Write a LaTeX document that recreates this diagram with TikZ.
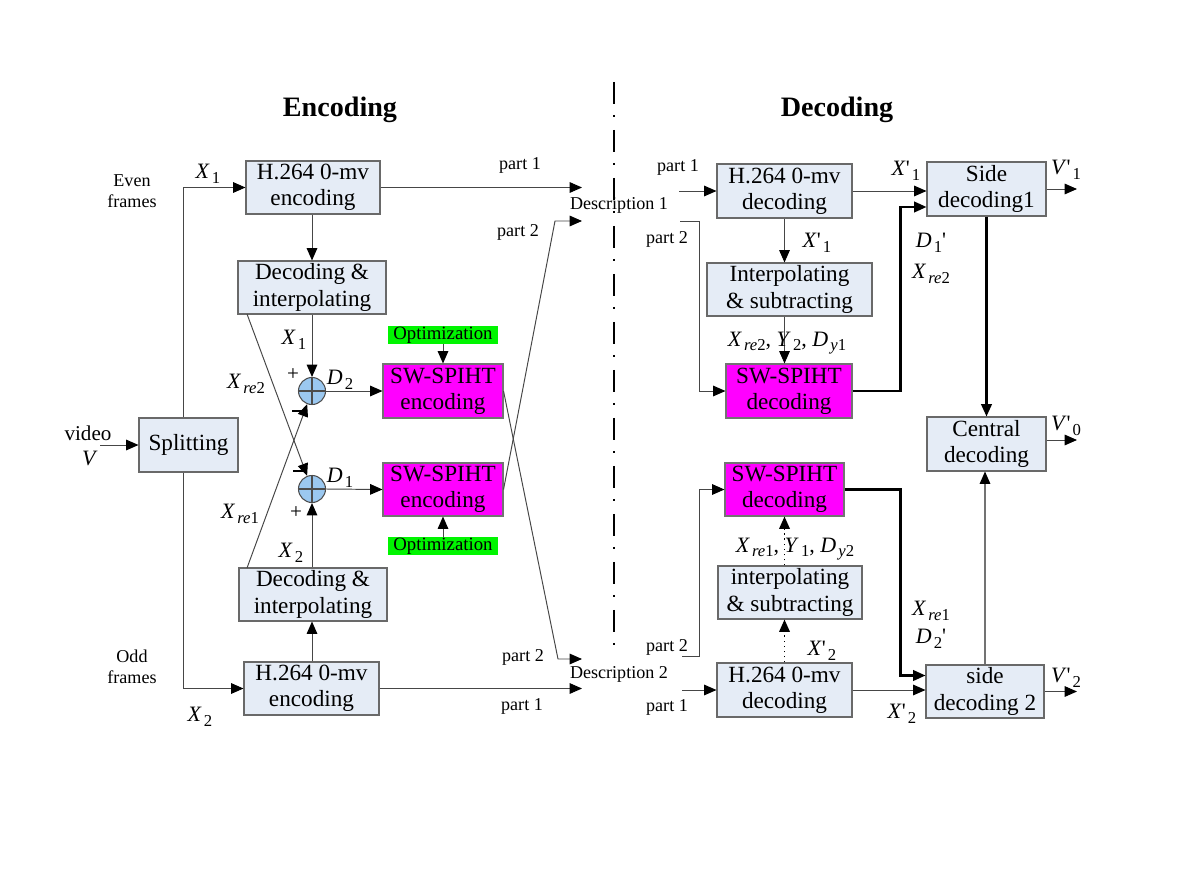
\documentclass[tikz,border=0pt]{standalone}
\usepackage{fontspec}
\setmainfont{Liberation Serif}
\usetikzlibrary{arrows.meta,calc,shapes.geometric}
\definecolor{boxfill}{RGB}{229,236,246}
\definecolor{boxline}{RGB}{105,105,105}
\definecolor{magentab}{RGB}{255,0,255}
\definecolor{greenb}{RGB}{0,245,0}
\definecolor{sumfill}{RGB}{155,200,240}
\definecolor{linec}{RGB}{70,70,70}
\newcommand{\xv}{\textit{X}}
\newcommand{\sbx}[1]{\hspace{0.1em}\raisebox{-0.45ex}{\fontsize{9.5}{10}\selectfont #1}}
\newcommand{\pr}{{\upshape\textquotesingle}}
\begin{document}
\begin{tikzpicture}[x=0.02cm,y=-0.02cm,
  wh/.style 2 args={minimum width=#1*0.02cm, minimum height=#2*0.02cm},
  box/.style={draw=boxline, fill=boxfill, line width=0.6pt, align=center, inner sep=0pt, font=\fontsize{13.2}{15}\selectfont},
  mbox/.style={box, fill=magentab, draw=black!55},
  obox/.style={draw=none, fill=greenb, inner sep=0pt, font=\fontsize{10.7}{11}\selectfont},
  sumc/.style={circle, draw=black!70, fill=sumfill, minimum size=27*0.02cm, inner sep=0pt, line width=0.6pt},
  conn/.style={draw=linec, line width=0.55pt},
  tip/.style={-{Triangle[length=7pt,width=6pt,black]}},
  arr/.style={conn, tip},
  tarr/.style={draw=black, line width=1.2pt, tip},
  darr/.style={draw=black, line width=0.9pt, dotted, tip},
  garr/.style={draw=black!55, line width=0.6pt, tip},
  lbl/.style={font=\fontsize{10.3}{12}\selectfont, inner sep=0pt, align=center},
  mlbl/.style={font=\fontsize{12.5}{14}\selectfont, inner sep=0pt},
  ttl/.style={font=\fontsize{16}{18}\selectfont\bfseries, inner sep=0pt},
  minus/.style={inner sep=0pt},
  plus/.style={font=\fontsize{12}{12}\selectfont, inner sep=0pt}
]
\fill[white] (0,0) rectangle (1200,882);
\useasboundingbox (0,0) rectangle (1200,882);

% titles
\node[ttl] (tenc) at (340,110) {Encoding};
\node[ttl] (tdec) at (837,110) {Decoding};

% separator
\draw[line width=1.4pt, dash pattern=on 0.44cm off 0.22cm on 0.04cm off 0.26cm] (614,82) -- (614,652);

% ---------- encoder boxes ----------
\node[box, wh={134}{53}] (enc1) at (313,187.5) {H.264 0-mv\\encoding};
\node[box, wh={148}{53}] (di1) at (312,287.5) {Decoding \&\\interpolating};
\node[box, wh={99}{54}] (split) at (188.5,445) {Splitting};
\node[box, wh={148}{53}] (di2) at (313,594.5) {Decoding \&\\interpolating};
\node[box, wh={135}{53}] (enc2) at (311.5,688.5) {H.264 0-mv\\encoding};
\node[mbox, wh={120}{54}] (sw1) at (443,391) {SW-SPIHT\\encoding};
\node[mbox, wh={120}{53}] (sw2) at (443,489.5) {SW-SPIHT\\encoding};
\node[obox, wh={110}{18}] (opt1) at (443,335) {Optimization};
\node[obox, wh={110}{18}] (opt2) at (443,546) {Optimization};
\node[sumc] (sum1) at (312,391) {};
\node[sumc] (sum2) at (312,489) {};
\draw[black!70, line width=0.6pt] (sum1.north) -- (sum1.south) (sum1.west) -- (sum1.east);
\draw[black!70, line width=0.6pt] (sum2.north) -- (sum2.south) (sum2.west) -- (sum2.east);

% ---------- encoder connectors ----------
\coordinate (vin) at (100,445);
\coordinate (xsplit) at (183,445);
\coordinate (r2s) at (247,314);
\coordinate (r1s) at (247,568);
\coordinate (d1a) at (582,187.5);
\coordinate (b1) at (555,221);
\coordinate (d1b) at (582,221);
\coordinate (b2) at (558,659);
\coordinate (d2a) at (582,659);
\coordinate (d2b) at (582,688.5);

\draw[arr] (vin) -- (split.west);
\draw[arr] (split.north -| xsplit) |- (enc1.west);
\draw[arr] (split.south -| xsplit) |- (enc2.west);
\draw[arr] (enc1.south -| sum1) -- (di1.north -| sum1);
\draw[arr] (di1.south -| sum1) -- (sum1.north);
\draw[arr] (r2s) -- (sum2);
\draw[arr] (r1s) -- (sum1);
\draw[arr] (di2.north -| sum2) -- (sum2.south);
\draw[arr] (enc2.north -| sum2) -- (di2.south -| sum2);
\draw[arr] (sum1.east) -- (sw1.west);
\draw[arr] (sum2.east) -- (sw2.west);
\draw[arr] (opt1.south) -- (sw1.north);
\draw[arr] (opt2.north) -- (sw2.south);
\draw[arr] (enc1.east) -- (d1a);
\draw[arr] (sw2.east) -- (b1) -- (d1b);
\draw[arr] (sw1.east) -- (b2) -- (d2a);
\draw[arr] (enc2.east) -- (d2b);

% ---------- encoder labels ----------
\node[lbl] (even) at (132,191) {Even\\frames};
\node[lbl] (odd) at (132,667) {Odd\\frames};
\node[mlbl] (lx1a) at (208,174) {\xv\sbx{1}};
\node[mlbl] (lx2a) at (200,717) {\xv\sbx{2}};
\node[lbl, font=\fontsize{12}{14}\selectfont] (lvid) at (88,433) {video};
\node[mlbl] (lv) at (90,458) {\textit{V}};
\node[mlbl] (lx1b) at (294,340) {\xv\sbx{1}};
\node[plus] (pl1) at (293,375) {+};
\node[mlbl] (ld2) at (340,380) {\textit{D}\sbx{2}};
\node[mlbl] (lxre2) at (246,384) {\xv\sbx{\textit{re}2}};
\node[minus] (mi1) at (297,411) {\rule{5.5pt}{1.7pt}};
\node[minus] (mi2) at (298,471) {\rule{5.5pt}{1.7pt}};
\node[mlbl] (ld1) at (340,478) {\textit{D}\sbx{1}};
\node[mlbl] (lxre1) at (240,514) {\xv\sbx{\textit{re}1}};
\node[plus] (pl2) at (296,513) {+};
\node[mlbl] (lx2b) at (291,553) {\xv\sbx{2}};
\node[lbl] (lp1a) at (520,165) {part 1};
\node[lbl] (lp2a) at (518,232) {part 2};
\node[lbl] (ldes1) at (619,205) {Description 1};
\node[lbl] (lp2b) at (523,657) {part 2};
\node[lbl] (ldes2) at (619,674) {Description 2};
\node[lbl] (lp1b) at (522,706) {part 1};

% ---------- decoder boxes ----------
\node[box, wh={135}{54}] (dec1) at (784.5,191) {H.264 0-mv\\decoding};
\node[box, wh={165}{53}] (is1) at (789.5,289.5) {Interpolating\\\& subtracting};
\node[mbox, wh={126}{54}] (swd1) at (789,391) {SW-SPIHT\\decoding};
\node[box, wh={119}{54}] (side1) at (986.5,189) {Side\\decoding1};
\node[box, wh={119}{54}] (cen) at (986.5,444) {Central\\decoding};
\node[mbox, wh={119}{53}] (swd2) at (784.5,489.5) {SW-SPIHT\\decoding};
\node[box, wh={144}{53}] (is2) at (790,592.5) {interpolating\\\& subtracting};
\node[box, wh={135}{54}] (dec2) at (784.5,690) {H.264 0-mv\\decoding};
\node[box, wh={118}{53}] (side2) at (985,691.5) {side\\decoding 2};

% ---------- decoder connectors ----------
\coordinate (p1a) at (679,191);
\coordinate (p2a) at (680,221);
\coordinate (p2b) at (682,656);
\coordinate (p1b) at (682,690);
\coordinate (v1) at (1077,189);
\coordinate (v0) at (1077,440);
\coordinate (v2) at (1077,691.5);

\draw[arr] (p1a) -- (dec1.west);
\draw[arr] (p2a) -- ++(19,0) |- (swd1.west);
\draw[arr] (dec1.south) -- (dec1.south |- is1.north);
\draw[arr] (dec1.south |- is1.south) -- (dec1.south |- swd1.north);
\draw[arr] (dec1.east) -- (dec1.east -| side1.west);
\draw[tarr] (swd1.east) -- ++(48,0) |- ($(side1.west)+(0,18)$);
\draw[arr] (side1.east) -- (v1);
\draw[tarr] (side1.south) -- (cen.north);
\draw[arr] ($(cen.east)+(0,-4)$) -- (v0);

\draw[arr] (p2b) -- ++(17,0) |- (swd2.west);
\draw[darr] (dec2.north |- is2.north) -- (dec2.north |- swd2.south);
\draw[darr] (dec2.north) -- (dec2.north |- is2.south);
\draw[arr] (p1b) -- (dec2.west);
\draw[arr] (dec2.east) -- (dec2.east -| side2.west);
\draw[tarr] (swd2.east) -- ++(56,0) |- ($(side2.west)+(0,-16)$);
\draw[garr] (side2.north) -- (side2.north |- cen.south);
\draw[arr] (side2.east) -- (v2);

% ---------- decoder labels ----------
\node[lbl] (rp1a) at (678,167) {part 1};
\node[lbl] (rp2a) at (667,239) {part 2};
\node[mlbl] (rx1a) at (817,243) {\xv\pr\sbx{1}};
\node[mlbl] (rset1) at (787,343) {\xv\sbx{\textit{re}2}, \textit{Y}\sbx{2}, \textit{D}\sbx{\textit{y}1}};
\node[mlbl] (rx1b) at (906,171) {\xv\pr\sbx{1}};
\node[mlbl] (rd1) at (931,243) {\textit{D}\sbx{1}\pr};
\node[mlbl] (rxre2) at (931,274) {\xv\sbx{\textit{re}2}};
\node[mlbl] (rv1) at (1066,170) {\textit{V}\pr\sbx{1}};
\node[mlbl] (rv0) at (1066,426) {\textit{V}\pr\sbx{0}};
\node[lbl] (rp2b) at (667,647) {part 2};
\node[mlbl] (rset2) at (795,549) {\xv\sbx{\textit{re}1}, \textit{Y}\sbx{1}, \textit{D}\sbx{\textit{y}2}};
\node[mlbl] (rx2a) at (822,651) {\xv\pr\sbx{2}};
\node[lbl] (rp1b) at (667,707) {part 1};
\node[mlbl] (rx2b) at (902,714) {\xv\pr\sbx{2}};
\node[mlbl] (rxre1) at (931,611) {\xv\sbx{\textit{re}1}};
\node[mlbl] (rd2) at (931,639) {\textit{D}\sbx{2}\pr};
\node[mlbl] (rv2) at (1066,678) {\textit{V}\pr\sbx{2}};
\end{tikzpicture}
\end{document}
